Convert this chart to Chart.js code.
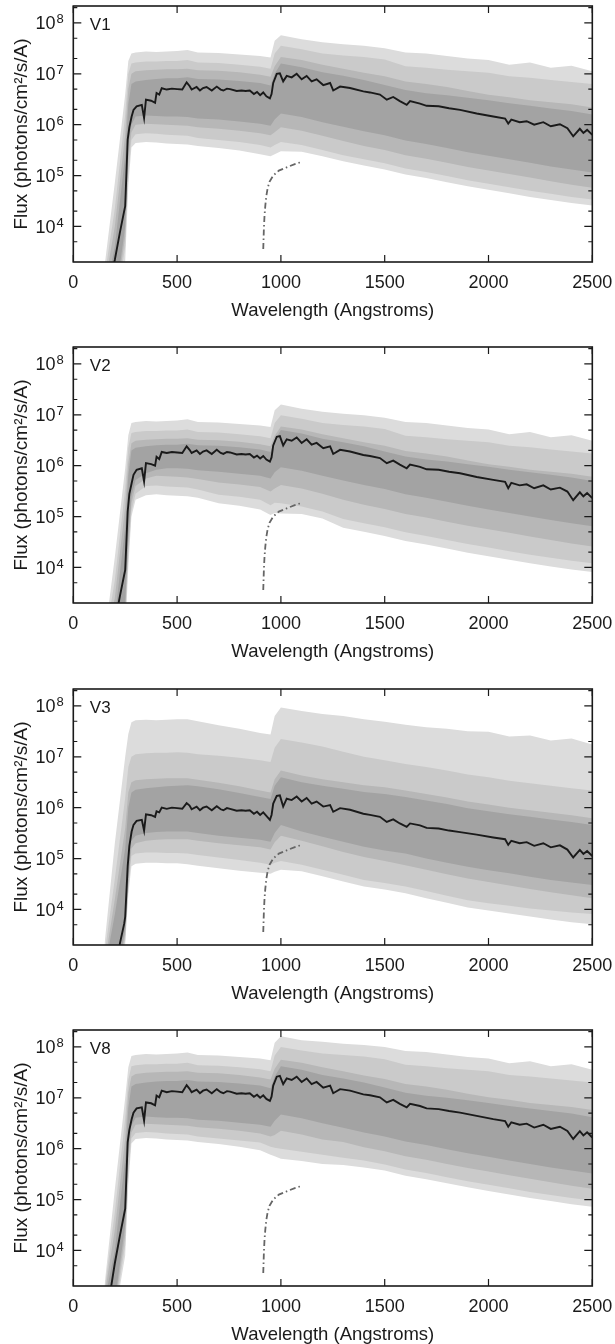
<!DOCTYPE html>
<html>
<head>
<meta charset="utf-8">
<script src="https://cdn.jsdelivr.net/npm/chart.js@4.4.1/dist/chart.umd.min.js"></script>
<style>
  html, body { margin: 0; padding: 0; background: #fff; overflow: hidden; }
  canvas { position: absolute; left: 0; }
</style>
</head>
<body>
<canvas id="c1" width="615" height="322" style="top:0px"></canvas>
<canvas id="c2" width="615" height="322" style="top:341px"></canvas>
<canvas id="c3" width="615" height="322" style="top:683px"></canvas>
<canvas id="c4" width="615" height="322" style="top:1024px"></canvas>
<script>
// ---- axes / ticks ----
const xTicks = [0, 500, 1000, 1500, 2000, 2500];
const yMajor = [1e4, 1e5, 1e6, 1e7, 1e8];
const yExp = ['4', '5', '6', '7', '8'];
const yMinor = [5e3, 2e4, 5e4, 2e5, 5e5, 2e6, 5e6, 2e7, 5e7, 2e8];

// ---- median spectra (flux), wavelength grid shared by all panels ----
const medX = [175, 200, 225, 245, 250, 262, 270, 281, 290, 305, 330, 341, 350, 375, 394, 401, 414, 426, 450, 475,
  500, 525, 546, 560, 570, 594, 610, 625, 642, 667, 691, 710, 723, 740, 755, 787, 810, 830, 850, 870,
  885, 900, 915, 930, 947, 955, 963, 980, 995, 1011, 1028, 1052, 1076, 1100, 1124, 1148, 1172, 1204, 1237, 1252,
  1285, 1333, 1397, 1429, 1477, 1510, 1541, 1573, 1606, 1622, 1670, 1702, 1760, 1810, 1863,
  1943, 2023, 2080, 2095, 2110, 2150, 2184, 2220, 2264, 2300, 2344, 2380, 2408, 2440, 2457, 2475, 2500];

const v1Median = [8.0e2, 2.2e3, 7.8e3, 2.0e4, 2.5e4, 5.1e5, 8.9e5, 1.45e6, 1.95e6, 2.3e6,
  2.45e6, 1.35e6, 3.1e6, 2.95e6, 2.7e6, 4.2e6, 3.9e6, 5.2e6, 4.9e6, 5.1e6,
  5.0e6, 4.9e6, 6.8e6, 5.75e6, 4.9e6, 5.5e6, 4.7e6, 5.25e6, 5.5e6, 4.7e6,
  5.6e6, 4.9e6, 4.7e6, 5.1e6, 5.0e6, 4.6e6, 4.7e6, 4.6e6, 4.7e6, 4.0e6,
  4.4e6, 3.8e6, 4.3e6, 3.6e6, 3.3e6, 4.0e6, 6.6e6, 1.0e7, 1.02e7, 7.1e6,
  9.1e6, 8.5e6, 1.0e7, 7.8e6, 9.1e6, 7.1e6, 7.8e6, 6.0e6, 6.6e6, 4.7e6,
  5.6e6, 5.25e6, 4.5e6, 4.3e6, 3.9e6, 3.1e6, 3.5e6, 2.9e6, 2.45e6, 2.9e6,
  2.6e6, 2.35e6, 2.3e6, 2.1e6, 1.95e6,
  1.66e6, 1.45e6, 1.32e6, 1.05e6, 1.26e6, 1.12e6, 1.17e6, 1.0e6, 1.12e6, 9.3e5, 1.02e6, 8.5e5, 5.9e5, 8.3e5, 6.9e5, 7.9e5, 6.3e5];

const v2Median = [3.2e2, 8.0e2, 2.8e3, 7.1e3, 8.9e3, 1.26e5, 2.8e5, 4.5e5, 6.6e5, 8.3e5,
  8.9e5, 4.9e5, 1.12e6, 1.07e6, 1.0e6, 1.5e6, 1.35e6, 1.86e6, 1.78e6, 1.86e6,
  1.82e6, 1.78e6, 2.4e6, 2.05e6, 1.78e6, 2.0e6, 1.7e6, 1.9e6, 2.0e6, 1.7e6,
  2.05e6, 1.78e6, 1.7e6, 1.86e6, 1.82e6, 1.66e6, 1.7e6, 1.66e6, 1.7e6, 1.45e6,
  1.58e6, 1.38e6, 1.55e6, 1.32e6, 1.2e6, 1.45e6, 2.5e6, 3.7e6, 3.8e6, 2.5e6,
  3.3e6, 3.1e6, 3.6e6, 2.8e6, 3.3e6, 2.6e6, 2.8e6, 2.2e6, 2.4e6, 1.7e6,
  2.05e6, 1.9e6, 1.62e6, 1.55e6, 1.41e6, 1.12e6, 1.26e6, 1.05e6, 8.9e5, 1.05e6,
  9.5e5, 8.5e5, 8.3e5, 7.6e5, 7.1e5,
  6.0e5, 5.25e5, 4.8e5, 3.6e5, 4.6e5, 4.1e5, 4.3e5, 3.6e5, 4.1e5, 3.4e5, 3.7e5, 3.1e5, 2.1e5, 3.0e5, 2.5e5, 2.9e5, 2.3e5];

const v3Median = [2.0e2, 5.0e2, 2.2e3, 5.2e3, 7.1e3, 7.1e4, 1.78e5, 3.4e5, 4.6e5, 5.5e5,
  5.75e5, 3.55e5, 7.4e5, 7.1e5, 6.6e5, 8.5e5, 8.1e5, 1.0e6, 9.5e5, 1.0e6,
  9.8e5, 9.5e5, 1.23e6, 1.1e6, 9.3e5, 1.05e6, 8.9e5, 1.0e6, 1.05e6, 8.9e5,
  1.07e6, 9.3e5, 8.9e5, 9.8e5, 9.5e5, 8.7e5, 8.9e5, 8.7e5, 8.9e5, 7.6e5,
  8.3e5, 7.2e5, 8.1e5, 6.9e5, 5.75e5, 7.2e5, 1.2e6, 1.7e6, 1.74e6, 1.05e6,
  1.5e6, 1.41e6, 1.66e6, 1.32e6, 1.55e6, 1.2e6, 1.32e6, 1.05e6, 1.12e6, 8.3e5,
  9.8e5, 9.1e5, 7.6e5, 7.2e5, 6.6e5, 5.25e5, 5.9e5, 4.9e5, 4.2e5, 4.9e5,
  4.5e5, 4.0e5, 3.9e5, 3.55e5, 3.3e5,
  2.95e5, 2.6e5, 2.4e5, 1.86e5, 2.24e5, 2.0e5, 2.1e5, 1.78e5, 2.0e5, 1.66e5, 1.82e5, 1.5e5, 1.05e5, 1.48e5, 1.23e5, 1.41e5, 1.12e5];

const v8Median = [1.26e3, 5.6e3, 2.0e4, 5.2e4, 6.6e4, 1.35e6, 2.35e6, 3.8e6, 5.1e6, 6.2e6,
  6.5e6, 3.55e6, 8.1e6, 7.8e6, 7.1e6, 1.1e7, 1.02e7, 1.38e7, 1.29e7, 1.35e7,
  1.32e7, 1.29e7, 1.78e7, 1.5e7, 1.29e7, 1.45e7, 1.23e7, 1.38e7, 1.45e7, 1.23e7,
  1.48e7, 1.29e7, 1.23e7, 1.35e7, 1.32e7, 1.2e7, 1.23e7, 1.2e7, 1.23e7, 1.05e7,
  1.15e7, 1.0e7, 1.12e7, 9.5e6, 8.7e6, 1.05e7, 1.74e7, 2.6e7, 2.7e7, 1.86e7,
  2.4e7, 2.24e7, 2.6e7, 2.05e7, 2.4e7, 1.86e7, 2.05e7, 1.58e7, 1.74e7, 1.23e7,
  1.48e7, 1.38e7, 1.17e7, 1.12e7, 1.02e7, 8.1e6, 9.1e6, 7.6e6, 6.5e6, 7.6e6,
  6.9e6, 6.2e6, 6.0e6, 5.5e6, 5.1e6,
  4.4e6, 3.8e6, 3.5e6, 2.7e6, 3.3e6, 2.95e6, 3.1e6, 2.6e6, 2.95e6, 2.45e6, 2.7e6, 2.24e6, 1.55e6, 2.2e6, 1.82e6, 2.1e6, 1.66e6];

// ---- dash-dot reference curve (flux) ----
const curveX = [915, 918, 921, 925, 930, 936, 945, 963, 990, 1028, 1070, 1100];
const curveY = [3.6e3, 9.0e3, 1.6e4, 2.6e4, 4.0e4, 5.6e4, 7.5e4, 1.0e5, 1.25e5, 1.45e5, 1.7e5, 1.85e5];

// ---- percentile bands, edges read in dex (log10 flux) on a shared wavelength grid ----
const bandX = [150, 200, 250, 265, 280, 300, 350, 400, 450, 500, 550, 600, 700, 800, 900, 950, 970, 1000,
  1100, 1200, 1300, 1400, 1500, 1600, 1700, 1800, 1900, 2000, 2100, 2200, 2300, 2400, 2500];

const v1OuterHi = [3.2, 4.86, 6.6, 7.25, 7.40, 7.42, 7.44, 7.43, 7.44, 7.45, 7.47, 7.42, 7.41, 7.38, 7.35, 7.32, 7.65, 7.76, 7.68, 7.62, 7.58, 7.55, 7.50, 7.42, 7.40, 7.35, 7.30, 7.27, 7.18, 7.22, 7.12, 7.16, 7.05];
const v1WideHi  = [3.0, 4.35, 6.2, 7.0, 7.2, 7.22, 7.24, 7.24, 7.25, 7.25, 7.27, 7.22, 7.21, 7.18, 7.14, 7.10, 7.40, 7.55, 7.48, 7.40, 7.36, 7.33, 7.28, 7.15, 7.12, 7.08, 7.05, 7.02, 6.95, 6.92, 6.88, 6.84, 6.80];
const v1MidHi   = [2.8, 4.0, 5.8, 6.7, 7.0, 7.05, 7.07, 7.08, 7.09, 7.09, 7.10, 7.07, 7.06, 7.03, 6.98, 6.94, 7.15, 7.33, 7.27, 7.18, 7.10, 7.02, 6.95, 6.85, 6.80, 6.74, 6.66, 6.59, 6.54, 6.48, 6.44, 6.40, 6.34];
const v1CoreHi  = [2.6, 3.6, 5.4, 6.4, 6.8, 6.85, 6.88, 6.90, 6.91, 6.91, 6.93, 6.90, 6.89, 6.86, 6.82, 6.77, 7.0, 7.2, 7.13, 7.03, 6.96, 6.88, 6.78, 6.68, 6.62, 6.58, 6.53, 6.48, 6.42, 6.37, 6.32, 6.27, 6.20];
const v1CoreLo  = [2.0, 2.5, 4.0, 5.6, 6.0, 6.16, 6.18, 6.17, 6.16, 6.16, 6.15, 6.12, 6.10, 6.06, 6.02, 5.98, 6.10, 6.22, 6.15, 6.05, 5.96, 5.87, 5.79, 5.69, 5.62, 5.54, 5.46, 5.39, 5.32, 5.25, 5.18, 5.12, 5.06];
const v1MidLo   = [2.0, 2.4, 3.8, 5.3, 5.85, 6.0, 6.02, 6.01, 6.0, 5.99, 5.98, 5.95, 5.92, 5.88, 5.83, 5.79, 5.85, 5.95, 5.88, 5.78, 5.68, 5.58, 5.50, 5.40, 5.33, 5.25, 5.17, 5.10, 5.03, 4.96, 4.89, 4.82, 4.76];
const v1WideLo  = [2.0, 2.3, 3.6, 5.0, 5.7, 5.81, 5.83, 5.82, 5.80, 5.79, 5.78, 5.74, 5.70, 5.66, 5.60, 5.55, 5.60, 5.66, 5.60, 5.50, 5.40, 5.32, 5.24, 5.14, 5.07, 4.99, 4.91, 4.84, 4.77, 4.70, 4.64, 4.58, 4.53];
const v1OuterLo = [2.0, 2.2, 3.3, 4.8, 5.55, 5.64, 5.66, 5.65, 5.63, 5.62, 5.61, 5.58, 5.54, 5.49, 5.42, 5.38, 5.42, 5.48, 5.47, 5.38, 5.28, 5.20, 5.12, 5.02, 4.95, 4.87, 4.79, 4.72, 4.65, 4.58, 4.52, 4.46, 4.41];

const v2OuterHi = [2.6, 4.2, 5.95, 6.6, 6.84, 6.86, 6.88, 6.87, 6.88, 6.89, 6.91, 6.86, 6.85, 6.82, 6.79, 6.76, 7.09, 7.20, 7.12, 7.06, 7.02, 6.99, 6.94, 6.86, 6.84, 6.79, 6.74, 6.71, 6.62, 6.66, 6.56, 6.60, 6.49];
const v2WideHi  = [2.5, 3.75, 5.55, 6.35, 6.64, 6.66, 6.68, 6.68, 6.69, 6.69, 6.71, 6.66, 6.65, 6.62, 6.58, 6.54, 6.84, 6.99, 6.92, 6.84, 6.80, 6.77, 6.72, 6.59, 6.56, 6.52, 6.49, 6.46, 6.39, 6.36, 6.32, 6.28, 6.24];
const v2MidHi   = [2.4, 3.4, 5.2, 6.05, 6.44, 6.49, 6.51, 6.52, 6.53, 6.53, 6.54, 6.51, 6.50, 6.47, 6.42, 6.38, 6.59, 6.77, 6.71, 6.62, 6.54, 6.46, 6.39, 6.29, 6.24, 6.18, 6.10, 6.03, 5.98, 5.92, 5.88, 5.84, 5.78];
const v2CoreHi  = [2.3, 3.0, 4.8, 5.8, 6.3, 6.35, 6.38, 6.40, 6.41, 6.41, 6.43, 6.40, 6.39, 6.36, 6.32, 6.27, 6.50, 6.70, 6.63, 6.53, 6.46, 6.38, 6.28, 6.18, 6.12, 6.08, 6.03, 5.98, 5.92, 5.87, 5.82, 5.77, 5.70];
const v2CoreLo  = [1.8, 2.2, 3.3, 4.6, 5.4, 5.72, 5.85, 5.92, 5.95, 5.95, 5.94, 5.91, 5.88, 5.84, 5.80, 5.75, 5.87, 5.97, 5.90, 5.80, 5.71, 5.62, 5.54, 5.44, 5.37, 5.29, 5.21, 5.14, 5.07, 5.00, 4.93, 4.87, 4.81];
const v2MidLo   = [1.8, 2.1, 3.1, 4.4, 5.25, 5.6, 5.75, 5.80, 5.79, 5.78, 5.77, 5.74, 5.67, 5.63, 5.58, 5.49, 5.55, 5.62, 5.55, 5.45, 5.33, 5.23, 5.15, 5.05, 4.98, 4.90, 4.82, 4.75, 4.68, 4.61, 4.54, 4.47, 4.41];
const v2WideLo  = [1.8, 2.0, 2.9, 4.2, 5.1, 5.45, 5.6, 5.61, 5.59, 5.58, 5.57, 5.53, 5.43, 5.39, 5.33, 5.22, 5.27, 5.26, 5.20, 5.10, 4.95, 4.87, 4.79, 4.69, 4.62, 4.54, 4.46, 4.39, 4.32, 4.25, 4.19, 4.13, 4.08];
const v2OuterLo = [1.8, 1.9, 2.7, 4.0, 5.0, 5.33, 5.42, 5.44, 5.42, 5.41, 5.40, 5.37, 5.26, 5.21, 5.14, 5.03, 5.07, 5.06, 5.05, 4.96, 4.78, 4.70, 4.62, 4.52, 4.45, 4.37, 4.29, 4.22, 4.15, 4.08, 4.02, 3.96, 3.91];

const v3OuterHi = [3.3, 5.3, 7.0, 7.45, 7.68, 7.72, 7.73, 7.72, 7.73, 7.74, 7.74, 7.70, 7.62, 7.55, 7.47, 7.44, 7.80, 7.97, 7.90, 7.84, 7.80, 7.74, 7.69, 7.63, 7.58, 7.55, 7.50, 7.49, 7.40, 7.42, 7.32, 7.36, 7.24];
const v3WideHi  = [3.1, 4.6, 6.2, 6.8, 7.0, 7.05, 7.07, 7.08, 7.08, 7.09, 7.08, 7.05, 7.02, 6.98, 6.93, 6.90, 7.18, 7.35, 7.28, 7.20, 7.10, 7.00, 6.93, 6.86, 6.80, 6.73, 6.65, 6.60, 6.53, 6.48, 6.43, 6.38, 6.34];
const v3MidHi   = [2.9, 4.2, 5.6, 6.3, 6.5, 6.54, 6.56, 6.57, 6.58, 6.58, 6.58, 6.55, 6.49, 6.42, 6.34, 6.30, 6.56, 6.73, 6.63, 6.56, 6.50, 6.44, 6.40, 6.34, 6.27, 6.20, 6.12, 6.06, 6.00, 5.95, 5.90, 5.85, 5.79];
const v3CoreHi  = [2.8, 3.9, 5.2, 6.0, 6.3, 6.35, 6.38, 6.40, 6.42, 6.43, 6.44, 6.42, 6.36, 6.29, 6.21, 6.17, 6.43, 6.60, 6.50, 6.43, 6.37, 6.31, 6.27, 6.21, 6.14, 6.07, 5.99, 5.93, 5.87, 5.82, 5.77, 5.72, 5.66];
const v3CoreLo  = [2.0, 2.5, 3.6, 4.6, 5.35, 5.45, 5.50, 5.52, 5.53, 5.53, 5.53, 5.50, 5.45, 5.41, 5.37, 5.33, 5.50, 5.66, 5.53, 5.43, 5.33, 5.23, 5.16, 5.10, 5.00, 4.92, 4.84, 4.77, 4.71, 4.64, 4.58, 4.53, 4.48];
const v3MidLo   = [2.0, 2.4, 3.5, 4.5, 5.2, 5.30, 5.35, 5.37, 5.38, 5.38, 5.38, 5.35, 5.30, 5.26, 5.22, 5.18, 5.32, 5.45, 5.35, 5.24, 5.13, 5.03, 4.95, 4.87, 4.78, 4.69, 4.61, 4.54, 4.47, 4.40, 4.34, 4.28, 4.22];
const v3WideLo  = [2.0, 2.3, 3.4, 4.4, 5.05, 5.10, 5.12, 5.12, 5.11, 5.11, 5.10, 5.07, 5.02, 4.97, 4.92, 4.88, 4.92, 4.95, 4.88, 4.78, 4.68, 4.58, 4.52, 4.45, 4.36, 4.27, 4.18, 4.12, 4.07, 4.02, 3.98, 3.94, 3.91];
const v3OuterLo = [2.0, 2.2, 3.3, 4.3, 4.85, 4.90, 4.92, 4.92, 4.91, 4.91, 4.89, 4.86, 4.81, 4.76, 4.72, 4.70, 4.74, 4.78, 4.75, 4.65, 4.55, 4.45, 4.39, 4.32, 4.22, 4.13, 4.04, 3.98, 3.92, 3.86, 3.80, 3.75, 3.71];

const v8OuterHi = [3.3, 5.2, 7.0, 7.6, 7.82, 7.84, 7.86, 7.85, 7.86, 7.87, 7.89, 7.84, 7.83, 7.80, 7.77, 7.74, 8.08, 8.21, 8.13, 8.10, 8.06, 8.04, 8.00, 7.92, 7.90, 7.85, 7.80, 7.77, 7.68, 7.72, 7.62, 7.66, 7.55];
const v8WideHi  = [3.2, 4.75, 6.6, 7.35, 7.62, 7.64, 7.66, 7.66, 7.67, 7.67, 7.69, 7.64, 7.63, 7.60, 7.56, 7.52, 7.83, 8.00, 7.93, 7.87, 7.84, 7.81, 7.76, 7.65, 7.62, 7.58, 7.55, 7.52, 7.45, 7.42, 7.38, 7.34, 7.30];
const v8MidHi   = [3.1, 4.4, 6.2, 7.1, 7.42, 7.47, 7.49, 7.50, 7.51, 7.51, 7.52, 7.49, 7.48, 7.45, 7.40, 7.36, 7.57, 7.75, 7.69, 7.60, 7.52, 7.44, 7.37, 7.27, 7.22, 7.16, 7.08, 7.01, 6.96, 6.90, 6.86, 6.82, 6.76];
const v8CoreHi  = [3.0, 4.0, 5.8, 6.8, 7.22, 7.27, 7.30, 7.32, 7.33, 7.33, 7.35, 7.32, 7.31, 7.28, 7.24, 7.19, 7.42, 7.62, 7.55, 7.45, 7.38, 7.30, 7.20, 7.10, 7.04, 7.00, 6.95, 6.90, 6.84, 6.79, 6.74, 6.69, 6.62];
const v8CoreLo  = [2.4, 3.0, 4.5, 6.05, 6.45, 6.61, 6.63, 6.62, 6.61, 6.61, 6.60, 6.57, 6.55, 6.51, 6.47, 6.43, 6.55, 6.67, 6.60, 6.50, 6.41, 6.32, 6.24, 6.14, 6.07, 5.99, 5.91, 5.84, 5.77, 5.70, 5.63, 5.57, 5.51];
const v8MidLo   = [2.4, 2.9, 4.3, 5.8, 6.32, 6.47, 6.49, 6.48, 6.47, 6.46, 6.45, 6.42, 6.39, 6.35, 6.30, 6.24, 6.27, 6.35, 6.28, 6.18, 6.13, 6.03, 5.95, 5.85, 5.78, 5.70, 5.62, 5.55, 5.48, 5.41, 5.34, 5.27, 5.21];
const v8WideLo  = [2.4, 2.8, 4.1, 5.5, 6.2, 6.31, 6.33, 6.32, 6.30, 6.29, 6.28, 6.24, 6.20, 6.16, 6.12, 6.04, 6.02, 6.00, 5.94, 5.88, 5.82, 5.77, 5.69, 5.59, 5.52, 5.44, 5.36, 5.29, 5.22, 5.15, 5.09, 5.03, 4.98];
const v8OuterLo = [2.4, 2.7, 3.9, 5.3, 6.1, 6.19, 6.21, 6.20, 6.18, 6.17, 6.16, 6.13, 6.09, 6.04, 5.97, 5.88, 5.85, 5.80, 5.76, 5.70, 5.68, 5.63, 5.57, 5.47, 5.40, 5.32, 5.24, 5.17, 5.10, 5.03, 4.97, 4.91, 4.86];

const panels = [
  { id: 'c1', label: 'V1', median: v1Median, bands: [[v1CoreHi, v1CoreLo], [v1MidHi, v1MidLo], [v1WideHi, v1WideLo], [v1OuterHi, v1OuterLo]] },
  { id: 'c2', label: 'V2', median: v2Median, bands: [[v2CoreHi, v2CoreLo], [v2MidHi, v2MidLo], [v2WideHi, v2WideLo], [v2OuterHi, v2OuterLo]] },
  { id: 'c3', label: 'V3', median: v3Median, bands: [[v3CoreHi, v3CoreLo], [v3MidHi, v3MidLo], [v3WideHi, v3WideLo], [v3OuterHi, v3OuterLo]] },
  { id: 'c4', label: 'V8', median: v8Median, bands: [[v8CoreHi, v8CoreLo], [v8MidHi, v8MidLo], [v8WideHi, v8WideLo], [v8OuterHi, v8OuterLo]] }
];
const bandColors = ['#a3a3a3', '#b7b7b7', '#cacaca', '#dcdcdc'];

const FONT = '"Liberation Sans", Arial, Helvetica, sans-serif';
const INK = '#1a1a1a';
Chart.defaults.font.family = FONT;
Chart.defaults.color = INK;

function pts(xs, ys) { return xs.map((x, i) => ({ x: x, y: ys[i] })); }
function dexPts(xs, ds) { return xs.map((x, i) => ({ x: x, y: Math.pow(10, ds[i]) })); }

// frame, inward ticks, y tick labels with exponents, panel label
const frameTicks = {
  id: 'frameTicks',
  afterDatasetsDraw(chart, args, opts) {
    const { ctx, chartArea: a, scales: { x, y } } = chart;
    ctx.save();
    ctx.strokeStyle = INK;
    ctx.lineWidth = 1.2;
    ctx.beginPath();
    xTicks.forEach(v => {
      const px = x.getPixelForValue(v);
      ctx.moveTo(px, a.bottom); ctx.lineTo(px, a.bottom - 7);
      ctx.moveTo(px, a.top); ctx.lineTo(px, a.top + 7);
    });
    yMajor.forEach(v => {
      const py = y.getPixelForValue(v);
      ctx.moveTo(a.left, py); ctx.lineTo(a.left + 8, py);
      ctx.moveTo(a.right, py); ctx.lineTo(a.right - 8, py);
    });
    yMinor.forEach(v => {
      const py = y.getPixelForValue(v);
      if (py < a.top || py > a.bottom) return;
      ctx.moveTo(a.left, py); ctx.lineTo(a.left + 4, py);
      ctx.moveTo(a.right, py); ctx.lineTo(a.right - 4, py);
    });
    ctx.stroke();
    ctx.lineWidth = 1.6;
    ctx.strokeRect(a.left, a.top, a.right - a.left, a.bottom - a.top);

    ctx.fillStyle = INK;
    ctx.textBaseline = 'alphabetic';
    yMajor.forEach((v, i) => {
      const py = y.getPixelForValue(v);
      ctx.font = '18px ' + FONT;
      ctx.textAlign = 'right';
      ctx.fillText('10', 55.5, py + 6.5);
      ctx.font = '13px ' + FONT;
      ctx.textAlign = 'left';
      ctx.fillText(yExp[i], 56.5, py + 0.5);
    });
    ctx.font = '17px ' + FONT;
    ctx.textAlign = 'left';
    ctx.fillText(opts.label, a.left + 16.5, a.top + 24);
    ctx.restore();
  }
};

panels.forEach(p => {
  const datasets = [
    { data: pts(medX, p.median), borderColor: INK, borderWidth: 1.9, pointRadius: 0, fill: false },
    { data: pts(curveX, curveY), borderColor: '#666666', borderWidth: 1.8, borderDash: [6, 3, 1.5, 3], pointRadius: 0, fill: false }
  ];
  p.bands.forEach((b, k) => {
    const hiIdx = datasets.length;
    datasets.push({ data: dexPts(bandX, b[0]), borderColor: 'transparent', borderWidth: 0, pointRadius: 0,
      fill: hiIdx + 1, backgroundColor: bandColors[k] });
    datasets.push({ data: dexPts(bandX, b[1]), borderColor: 'transparent', borderWidth: 0, pointRadius: 0, fill: false });
  });

  new Chart(document.getElementById(p.id), {
    type: 'line',
    data: { datasets: datasets },
    plugins: [frameTicks],
    options: {
      responsive: false,
      animation: false,
      layout: { padding: { top: 6, right: 22.7, left: 0, bottom: 0 } },
      plugins: { legend: { display: false }, tooltip: { enabled: false }, frameTicks: { label: p.label } },
      scales: {
        x: {
          type: 'linear', min: 0, max: 2500,
          afterBuildTicks: s => { s.ticks = xTicks.map(v => ({ value: v })); },
          grid: { display: false, drawTicks: false }, border: { display: false },
          ticks: { font: { size: 18 }, color: INK, padding: 10, maxRotation: 0, autoSkip: false,
            callback: v => String(v) },
          title: { display: true, text: 'Wavelength (Angstroms)', font: { size: 18.5 }, color: INK, padding: { top: 0, bottom: 0 } },
          afterFit: s => { s.height = 60; s.paddingLeft = 0; s.paddingRight = 0; }
        },
        y: {
          type: 'logarithmic', min: 2000, max: 2.15e8,
          grid: { display: false, drawTicks: false }, border: { display: false },
          ticks: { display: false },
          title: { display: true, text: 'Flux (photons/cm²/s/A)', font: { size: 19 }, color: INK, padding: { top: 10, bottom: 0 } },
          afterFit: s => { s.width = 73.3; s.paddingTop = 0; s.paddingBottom = 0; }
        }
      }
    }
  });
});
</script>
</body>
</html>
